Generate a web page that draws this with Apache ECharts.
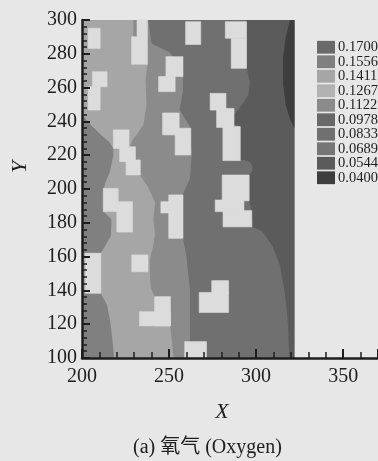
<!DOCTYPE html>
<html>
<head>
<meta charset="utf-8">
<script src="https://cdn.jsdelivr.net/npm/echarts@6/dist/echarts.min.js"></script>
<style>
  html, body { margin: 0; padding: 0; background: #e7e7e7; }
  #chart { width: 378px; height: 461px; }
</style>
</head>
<body>
<div id="chart"></div>
<script>
// legend levels, top to bottom, and their grey tone
const levels = [0.1700, 0.1556, 0.1411, 0.1267, 0.1122, 0.0978, 0.0833, 0.0689, 0.0544, 0.0400];
const levelGrays = ['#6a6a6a', '#808080', '#a6a6a6', '#b2b2b2', '#8b8b8b', '#686868', '#707070', '#767676', '#5b5b5b', '#3e3e3e'];

// contour zones as outlines in (X, Y)
const zoneBase = [[200, 100], [322, 100], [322, 300], [200, 300]];
const zoneMid = [[200, 300], [238, 300], [240, 286], [250, 281], [258, 272], [258, 258], [256, 247], [262, 237],
  [263, 221], [262, 206], [258, 197], [258, 171], [260, 160], [262, 140], [262, 120], [262, 100], [200, 100]];
const zoneBand = [[200, 300], [229.5, 300], [229.5, 290], [231, 274], [237.6, 274], [236.5, 265], [237, 250],
  [235.3, 238], [232, 233], [229, 229], [227, 224], [230.7, 217], [233.5, 208], [238, 201], [242, 192],
  [241, 182], [242, 173], [240.5, 165], [239, 158], [239, 149], [239.5, 142], [241.6, 136.3], [246, 128],
  [250.7, 118.5], [251.6, 110], [252.5, 100], [200, 100]];
const zoneLeftUpper = [[200, 244], [205, 238], [211, 232], [215.5, 228], [218, 224], [218, 220], [216, 210],
  [213.5, 204], [212.5, 200], [212.5, 186.6], [217, 182], [216.5, 172], [212, 164], [210.7, 162], [200, 162]];
const zoneLeftLower = [[200, 138.3], [210.7, 138.3], [214.4, 131.4], [216.2, 121.5], [217.6, 109.7],
  [218.4, 100], [200, 100]];
const zoneRight = [[294.5, 300], [322, 300], [322, 100], [319.1, 100], [318.2, 121.5], [316.4, 139.3],
  [313.6, 155], [309, 167], [303.6, 174.8], [298.2, 177.7], [297.5, 187], [296, 193], [296, 208.3],
  [297.5, 210], [298.2, 212.5], [297, 215.5], [293.5, 217.2], [290.9, 217.2], [290.9, 237], [287.3, 238],
  [287.5, 244], [291.8, 249.7], [295.5, 255.6], [296.4, 263.5], [294.5, 271.4]];
const zoneEdge = [[319.5, 300], [322, 300], [322, 236], [319.5, 241], [317, 250], [315.5, 262], [315.5, 278],
  [317, 290]];

const zones = [zoneBase, zoneMid, zoneBand, zoneLeftUpper, zoneLeftLower, zoneRight, zoneEdge];
const zoneLevels = [0.0833, 0.1122, 0.1411, 0.1556, 0.1556, 0.0544, 0.0400];

// solid blocks: [x1, x2, y1, y2]
const obstacles = [
  [203.5, 210.4, 283.2, 295.1], [231.6, 237.6, 290, 300], [228.5, 237.6, 273.8, 290.1],
  [259.5, 268.2, 285.5, 299], [206, 214.4, 260.5, 269.4], [203.5, 210.4, 246.7, 260.5],
  [248.2, 258, 266.5, 278.3], [244, 253.5, 257.6, 266.6], [246.3, 255.8, 232, 245],
  [253.5, 262.5, 220.1, 236], [218, 227, 224, 235], [221.6, 230.7, 216.2, 225],
  [225.3, 233.5, 208.3, 217.2], [212.2, 220.8, 186.6, 200.4], [220, 229, 174.5, 192.5],
  [245.3, 250.5, 185.8, 192.5], [249.8, 258, 170.8, 196.5], [202, 210.8, 138.3, 162],
  [228.6, 237.9, 151, 161], [241.7, 250.8, 119, 136.3], [233, 250.8, 119, 127.4],
  [259, 271.5, 100, 109.7], [282.3, 294.5, 289.2, 299], [285.7, 294.5, 271.4, 289.2],
  [273.6, 282.7, 246.7, 256.6], [277.3, 287.3, 236.4, 247.7], [280.9, 290.9, 216.8, 237],
  [280.5, 296, 193, 208.3], [276.5, 293, 186.6, 193.5], [281, 297.5, 177.6, 187.2],
  [274.5, 284.2, 138.3, 145.8], [267.3, 284.2, 126.9, 138.8]
];

const serif = 'Liberation Serif, Noto Sans CJK SC';
const ink = '#1e1e1e';

function grayOf(level) {
  return levelGrays[levels.indexOf(level)];
}

const chart = echarts.init(document.getElementById('chart'));

chart.setOption({
  backgroundColor: '#e7e7e7',
  animation: false,
  title: {
    text: '(a) 氧气 (Oxygen)',
    left: 133,
    top: 438,
    padding: 0,
    textStyle: { fontFamily: serif, fontSize: 20, fontWeight: 'normal', color: ink }
  },
  grid: { left: 82, top: 20, bottom: 103, right: -15.6 },
  xAxis: {
    type: 'value',
    min: 200,
    max: 370,
    interval: 50,
    name: 'X',
    nameLocation: 'middle',
    nameGap: 43,
    nameTextStyle: { fontFamily: serif, fontStyle: 'italic', fontSize: 22, color: ink, padding: [0, 16, 0, 0] },
    axisLine: { lineStyle: { color: ink, width: 2.5 } },
    axisTick: { inside: true, length: 9, lineStyle: { color: ink, width: 2 } },
    minorTick: { show: true, splitNumber: 5, length: 6, lineStyle: { color: ink, width: 1.5 } },
    axisLabel: { fontFamily: serif, fontSize: 20, color: ink, margin: 9, showMaxLabel: false },
    splitLine: { show: false },
    z: 5
  },
  yAxis: {
    type: 'value',
    min: 100,
    max: 300,
    interval: 20,
    name: 'Y',
    nameLocation: 'middle',
    nameGap: 51,
    nameTextStyle: { fontFamily: serif, fontStyle: 'italic', fontSize: 22, color: ink, padding: [0, 0, 0, 44] },
    axisLine: { lineStyle: { color: ink, width: 2.5 } },
    axisTick: { inside: true, length: 8, lineStyle: { color: ink, width: 2 } },
    minorTick: { show: true, splitNumber: 5, length: 5, lineStyle: { color: ink, width: 1.5 } },
    axisLabel: { fontFamily: serif, fontSize: 20, color: ink, margin: 5 },
    splitLine: { show: false },
    z: 5
  },
  visualMap: {
    type: 'piecewise',
    seriesIndex: [],
    orient: 'vertical',
    align: 'left',
    left: 317,
    top: 40,
    padding: 0,
    itemWidth: 18,
    itemHeight: 12.8,
    itemGap: 0,
    itemSymbol: 'rect',
    textGap: 3,
    selectedMode: false,
    textStyle: { fontFamily: serif, fontSize: 14.5, color: ink },
    pieces: levels.map((v, i) => ({ value: v, label: v.toFixed(4), color: levelGrays[i] })).reverse()
  },
  series: [
    {
      type: 'custom',
      name: 'zones',
      coordinateSystem: 'cartesian2d',
      silent: true,
      encode: { x: 0, y: 1 },
      data: zones.map((z, i) => [z[0][0], z[0][1], zoneLevels[i]]),
      renderItem: function (params, api) {
        const pts = zones[params.dataIndex].map(p => api.coord(p));
        return {
          type: 'polygon',
          shape: { points: pts },
          style: { fill: grayOf(zoneLevels[params.dataIndex]) }
        };
      }
    },
    {
      type: 'custom',
      name: 'obstacles',
      coordinateSystem: 'cartesian2d',
      silent: true,
      encode: { x: [0, 1], y: [2, 3] },
      data: obstacles,
      renderItem: function (params, api) {
        const a = api.coord([api.value(0), api.value(3)]);
        const b = api.coord([api.value(1), api.value(2)]);
        return {
          type: 'rect',
          shape: { x: a[0], y: a[1], width: b[0] - a[0], height: b[1] - a[1] },
          style: { fill: '#dcdcdc', stroke: '#dcdcdc', lineWidth: 0.6 }
        };
      }
    }
  ]
});
</script>
</body>
</html>
